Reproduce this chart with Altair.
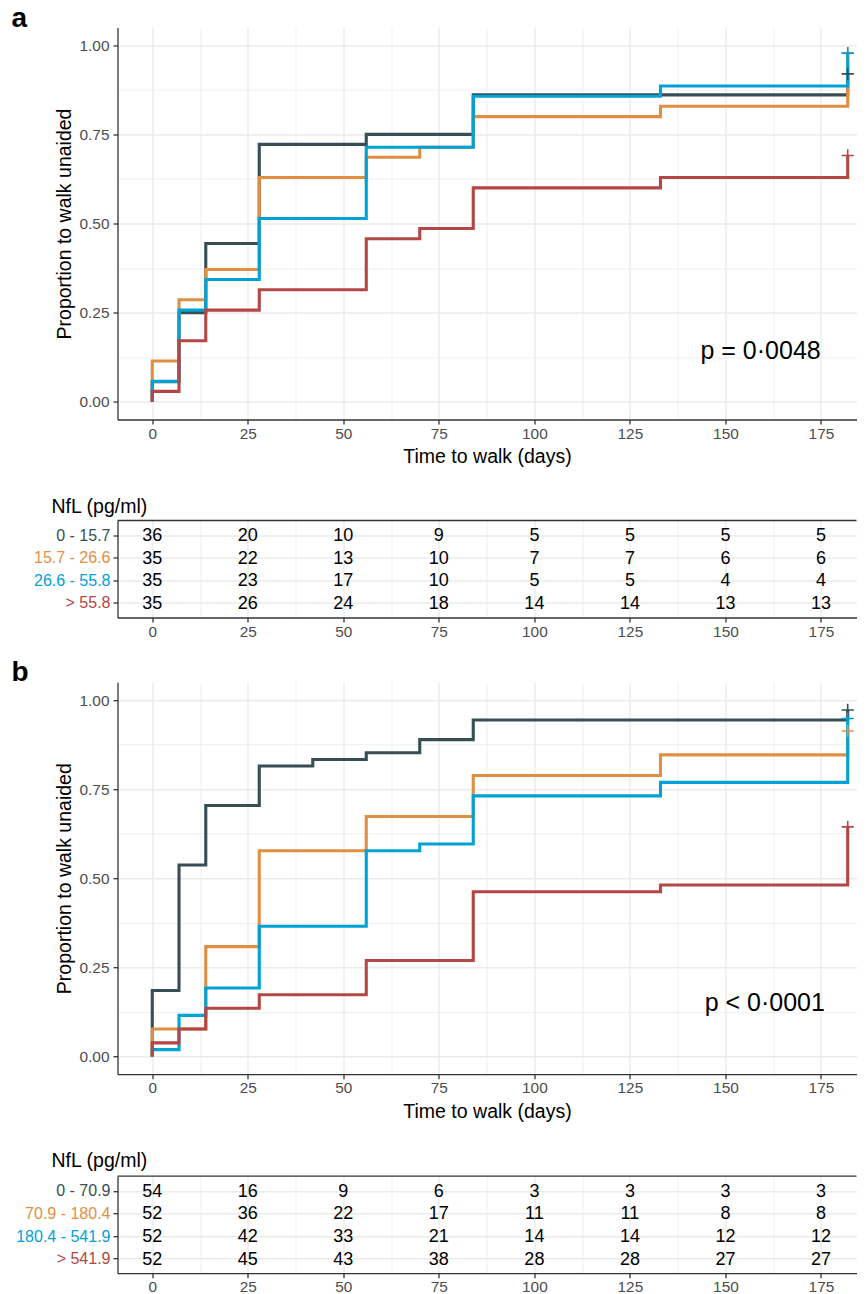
import altair as alt
import pandas as pd

FONT = "Liberation Sans"
COLORS = ["#374E55", "#DF8F44", "#00A1D5", "#B24745"]

# ---------------- Panel a data ----------------
groups_a = ["0 - 15.7", "15.7 - 26.6", "26.6 - 55.8", "> 55.8"]
times_a = [
    [0, 0, 7, 14, 28, 56, 84, 182],
    [0, 0, 7, 14, 28, 56, 70, 84, 133, 182],
    [0, 0, 7, 14, 28, 56, 84, 133, 182],
    [0, 0, 7, 14, 28, 56, 70, 84, 133, 182],
]
surv_a = [
    [0, 0.056, 0.250, 0.444, 0.722, 0.750, 0.861, 0.920],
    [0, 0.114, 0.286, 0.371, 0.629, 0.686, 0.714, 0.800, 0.829, 0.978],
    [0, 0.057, 0.257, 0.343, 0.514, 0.714, 0.857, 0.886, 0.978],
    [0, 0.029, 0.171, 0.257, 0.314, 0.457, 0.486, 0.600, 0.629, 0.691],
]
risk_times = [0, 25, 50, 75, 100, 125, 150, 175]
risk_a = [
    [36, 20, 10, 9, 5, 5, 5, 5],
    [35, 22, 13, 10, 7, 7, 6, 6],
    [35, 23, 17, 10, 5, 5, 4, 4],
    [35, 26, 24, 18, 14, 14, 13, 13],
]
p_a = "p = 0\u00b70048"
p_a_pos = (159.2, 0.143)

# ---------------- Panel b data ----------------
groups_b = ["0 - 70.9", "70.9 - 180.4", "180.4 - 541.9", "> 541.9"]
times_b = [
    [0, 0, 7, 14, 28, 42, 56, 70, 84, 182],
    [0, 0, 14, 28, 56, 84, 133, 182],
    [0, 0, 7, 14, 28, 56, 70, 84, 133, 182],
    [0, 0, 7, 14, 28, 56, 84, 133, 182],
]
surv_b = [
    [0, 0.185, 0.537, 0.704, 0.815, 0.833, 0.852, 0.889, 0.944, 0.972],
    [0, 0.077, 0.308, 0.577, 0.673, 0.788, 0.846, 0.913],
    [0, 0.019, 0.115, 0.192, 0.365, 0.577, 0.596, 0.731, 0.769, 0.948],
    [0, 0.038, 0.077, 0.135, 0.173, 0.269, 0.462, 0.481, 0.644],
]
risk_b = [
    [54, 16, 9, 6, 3, 3, 3, 3],
    [52, 36, 22, 17, 11, 11, 8, 8],
    [52, 42, 33, 21, 14, 14, 12, 12],
    [52, 45, 43, 38, 28, 28, 27, 27],
]
p_b = "p < 0\u00b70001"
p_b_pos = (160.3, 0.149)

# ---------------- axis / scale settings ----------------
X_DOMAIN = [-9.1, 184.3]
X_TICKS = [0, 12.5, 25, 37.5, 50, 62.5, 75, 87.5, 100, 112.5, 125, 137.5, 150, 162.5, 175]
Y_TICKS = [0, 0.125, 0.25, 0.375, 0.5, 0.625, 0.75, 0.875, 1.0]
W = 739
H_KM = 392
H_TAB = 97
AX_COL = "#333333"
LAB_COL = "#4D4D4D"
GRID_COL = "#EBEBEB"

xminor = "datum.value % 25 != 0"
yminor = "indexof([0, 0.25, 0.5, 0.75, 1], datum.value) < 0"


def x_axis(title):
    return alt.Axis(
        values=X_TICKS,
        title=title,
        titleFont=FONT, titleFontSize=19.5, titleFontWeight="normal", titleColor="black",
        titlePadding=6,
        labelExpr="datum.value % 25 == 0 ? datum.label : ''",
        labelFont=FONT, labelFontSize=15.4, labelColor=LAB_COL, labelPadding=2,
        domainColor=AX_COL, domainWidth=1.3,
        tickColor=AX_COL, tickSize=4.5, tickWidth=1.3,
        tickOpacity={"condition": {"test": xminor, "value": 0}, "value": 1},
        grid=True, gridColor=GRID_COL,
        gridWidth={"condition": {"test": xminor, "value": 0.8}, "value": 1.4},
    )


def km_chart(letter, groups, times, surv, ptxt, ppos):
    rows = []
    for g, ts, ss in zip(groups, times, surv):
        for i, (t, s) in enumerate(zip(ts, ss)):
            rows.append({"grp": g, "t": t, "s": s, "i": i})
    df = pd.DataFrame(rows)
    df_end = df.groupby("grp", sort=False).tail(1)

    xenc = alt.X("t:Q", scale=alt.Scale(domain=X_DOMAIN, nice=False, zero=False),
                 axis=x_axis("Time to walk (days)"))
    yenc = alt.Y("s:Q", scale=alt.Scale(domain=[-0.05, 1.05], nice=False, zero=False),
                 axis=alt.Axis(
                     values=Y_TICKS, format=".2f",
                     labelExpr="indexof([0, 0.25, 0.5, 0.75, 1], datum.value) >= 0 ? datum.label : ''",
                     title="Proportion to walk unaided",
                     titleFont=FONT, titleFontSize=19.5, titleFontWeight="normal", titleColor="black",
                     titlePadding=5,
                     labelFont=FONT, labelFontSize=15.4, labelColor=LAB_COL, labelPadding=4,
                     domainColor=AX_COL, domainWidth=1.3,
                     tickColor=AX_COL, tickSize=4.5, tickWidth=1.3,
                     tickOpacity={"condition": {"test": yminor, "value": 0}, "value": 1},
                     grid=True, gridColor=GRID_COL,
                     gridWidth={"condition": {"test": yminor, "value": 0.8}, "value": 1.4},
                 ))
    cenc = alt.Color("grp:N", scale=alt.Scale(domain=groups, range=COLORS), legend=None)

    lines = alt.Chart(df).mark_line(interpolate="step-after", strokeWidth=3.1).encode(
        x=xenc, y=yenc, color=cenc, order="i:Q")
    marks = alt.Chart(df_end).mark_point(
        shape="M-1,0L1,0M0,-1L0,1", size=150, filled=False, strokeWidth=1.6, opacity=1
    ).encode(x=xenc, y=yenc, color=cenc)
    ptext = alt.Chart(pd.DataFrame({"t": [ppos[0]], "s": [ppos[1]], "txt": [ptxt]})).mark_text(
        font=FONT, fontSize=25, color="black", align="center", baseline="middle"
    ).encode(x=xenc, y=yenc, text="txt:N")

    return alt.layer(lines, marks, ptext).properties(
        width=W, height=H_KM,
        view=alt.ViewBackground(stroke="transparent", strokeWidth=0),
        title=alt.TitleParams(text=letter, anchor="start", frame="group", dx=-106,
                              fontSize=28, fontWeight="bold", font=FONT, color="black",
                              offset=-5),
    )


def table_chart(groups, risk, title_offset):
    rows = []
    for g, ns in zip(groups, risk):
        for t, n in zip(risk_times, ns):
            rows.append({"grp": g, "t": t, "n": n})
    df = pd.DataFrame(rows)
    cond = [{"test": f"datum.value == '{g}'", "value": c} for g, c in zip(groups[:-1], COLORS[:-1])]
    xenc = alt.X("t:Q", scale=alt.Scale(domain=X_DOMAIN, nice=False, zero=False), axis=x_axis(None))
    yenc = alt.Y("grp:N", sort=groups, scale=alt.Scale(type="point", padding=0.64),
                 axis=alt.Axis(title=None, labelFont=FONT, labelFontSize=16,
                               labelColor={"condition": cond, "value": COLORS[-1]},
                               labelPadding=3,
                               domainColor=AX_COL, domainWidth=1.3,
                               tickColor=AX_COL, tickSize=4.5, tickWidth=1.3,
                               grid=True, gridColor=GRID_COL, gridWidth=1.4))
    txt = alt.Chart(df).mark_text(font=FONT, fontSize=18, color="black",
                                  align="center", baseline="middle", dy=1).encode(
        x=xenc, y=yenc, text="n:Q")
    top = alt.Chart(pd.DataFrame({"k": [0]})).mark_rule(color=AX_COL, strokeWidth=1.3).encode(
        x=alt.value(0), x2=alt.value(W), y=alt.value(0))
    return alt.layer(txt, top).properties(
        width=W, height=H_TAB,
        view=alt.ViewBackground(stroke="transparent", strokeWidth=0),
        title=alt.TitleParams(text="NfL (pg/ml)", anchor="start", frame="group", dx=-66,
                              fontSize=19.5, fontWeight="normal", font=FONT, color="black",
                              offset=title_offset),
    )


panel_a = alt.vconcat(
    km_chart("a", groups_a, times_a, surv_a, p_a, p_a_pos),
    table_chart(groups_a, risk_a, 2.5),
    spacing=30,
)
panel_b = alt.vconcat(
    km_chart("b", groups_b, times_b, surv_b, p_b, p_b_pos),
    table_chart(groups_b, risk_b, 4.5),
    spacing=29,
)

chart = alt.vconcat(panel_a, panel_b, spacing=19.7).properties(
    padding={"left": 3.5, "top": -3.5, "right": 0, "bottom": 0}
).configure(font=FONT).configure_view(stroke="transparent", strokeWidth=0)

chart.save("out.html", embed_options={"renderer": "svg", "actions": False})
